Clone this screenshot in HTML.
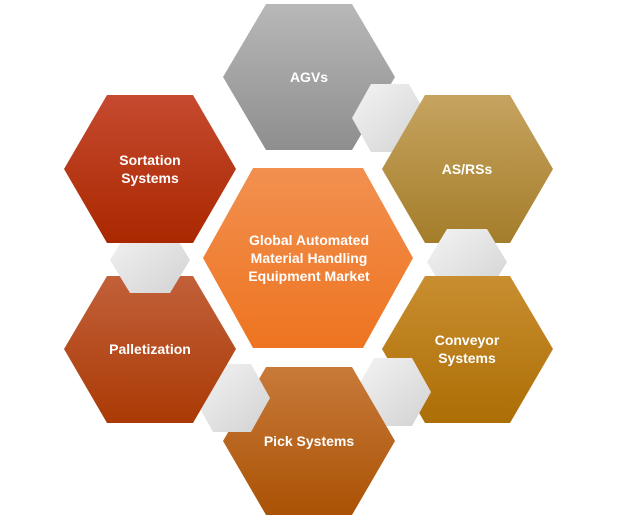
<!DOCTYPE html>
<html><head><style>
html,body{margin:0;padding:0;background:#fff;}
svg{display:block;}
text{font-family:"Liberation Sans",sans-serif;font-weight:bold;fill:#fff;font-size:14px;text-anchor:middle;}
</style></head><body>
<svg width="617" height="518" viewBox="0 0 617 518">
<defs>
<linearGradient id="gc" x1="0" y1="0" x2="1" y2="1"><stop offset="0" stop-color="#f4f4f4"/><stop offset="1" stop-color="#d2d2d2"/></linearGradient>
<linearGradient id="g1" x1="0" y1="0" x2="0" y2="1"><stop offset="0" stop-color="#b8b8b8"/><stop offset="1" stop-color="#8e8e8e"/></linearGradient>
<linearGradient id="g2" x1="0" y1="0" x2="0" y2="1"><stop offset="0" stop-color="#c6a460"/><stop offset="1" stop-color="#a47d2a"/></linearGradient>
<linearGradient id="g3" x1="0" y1="0" x2="0" y2="1"><stop offset="0" stop-color="#c98e30"/><stop offset="1" stop-color="#ac6e05"/></linearGradient>
<linearGradient id="g4" x1="0" y1="0" x2="0" y2="1"><stop offset="0" stop-color="#c87a3a"/><stop offset="1" stop-color="#aa5205"/></linearGradient>
<linearGradient id="g5" x1="0" y1="0" x2="0" y2="1"><stop offset="0" stop-color="#c2603a"/><stop offset="1" stop-color="#aa3a05"/></linearGradient>
<linearGradient id="g6" x1="0" y1="0" x2="0" y2="1"><stop offset="0" stop-color="#c64a30"/><stop offset="1" stop-color="#aa2800"/></linearGradient>
<linearGradient id="g0" x1="0" y1="0" x2="0" y2="1"><stop offset="0" stop-color="#f29050"/><stop offset="1" stop-color="#ee7420"/></linearGradient>
</defs>
<polygon points="223,77 266,4 352,4 395,77 352,150 266,150" fill="url(#g1)"/>
<polygon points="352,118 371,84 409,84 428,118 409,152 371,152" fill="url(#gc)"/>
<polygon points="382,169 425,95 510,95 553,169 510,243 425,243" fill="url(#g2)"/>
<polygon points="427,262 447,229 487,229 507,262 487,295 447,295" fill="url(#gc)"/>
<polygon points="382,349 425,276 510,276 553,349 510,423 425,423" fill="url(#g3)"/>
<polygon points="355,392 374,358 412,358 431,392 412,426 374,426" fill="url(#gc)"/>
<polygon points="223,441 266,367 352,367 395,441 352,515 266,515" fill="url(#g4)"/>
<polygon points="194,398 213,364 251,364 270,398 251,432 213,432" fill="url(#gc)"/>
<polygon points="64,349 107,276 193,276 236,349 193,423 107,423" fill="url(#g5)"/>
<polygon points="110,260 130,227 170,227 190,260 170,293 130,293" fill="url(#gc)"/>
<polygon points="64,169 107,95 193,95 236,169 193,243 107,243" fill="url(#g6)"/>
<polygon points="203,258 253,168 363,168 413,258 363,348 253,348" fill="url(#g0)"/>
<text x="309" y="82">AGVs</text>
<text x="467" y="174">AS/RSs</text>
<text x="467" y="345">Conveyor</text>
<text x="467" y="363">Systems</text>
<text x="309" y="446">Pick Systems</text>
<text x="150" y="354">Palletization</text>
<text x="150" y="165">Sortation</text>
<text x="150" y="183">Systems</text>
<text x="309" y="245">Global Automated</text>
<text x="309" y="263">Material Handling</text>
<text x="309" y="281">Equipment Market</text>
</svg>
</body></html>
